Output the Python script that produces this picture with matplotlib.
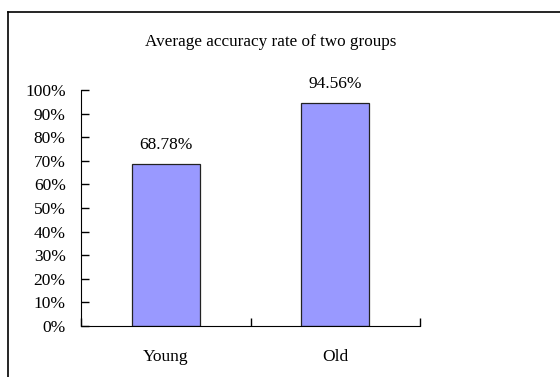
import matplotlib
matplotlib.use("Agg")
import matplotlib.pyplot as plt
from matplotlib.lines import Line2D

groups = ["Young", "Old"]
accuracy = [68.78, 94.56]
y_ticks = [0, 10, 20, 30, 40, 50, 60, 70, 80, 90, 100]
title = "Average accuracy rate of two groups"

plt.rcParams["font.family"] = ["Liberation Serif", "DejaVu Serif"]

W, H = 560, 377
fig = plt.figure(figsize=(W / 100, H / 100), dpi=100)

# outer chart-area border (only left and top visible in the reference)
fig.add_artist(Line2D([8 / W, 8 / W], [0, 1 - 12 / H], color="black", lw=1.2))
fig.add_artist(Line2D([8 / W, 1], [1 - 12 / H, 1 - 12 / H], color="black", lw=1.2))

ax = fig.add_axes([81 / W, 51 / H, (420 - 81) / W, (326 - 90) / H])
x = range(len(groups))
bars = ax.bar(x, accuracy, width=0.4, color="#9999FF", edgecolor="#222222", linewidth=0.9)

for xi, v in zip(x, accuracy):
    ax.text(xi, v + 4.5, f"{v:.2f}%", ha="center", va="bottom", fontsize=12.5)

ax.set_xlim(-0.5, 1.5)
ax.set_ylim(0, 100)
ax.set_yticks(y_ticks)
ax.set_yticklabels([f"{t}%" for t in y_ticks], fontsize=12.5)
ax.tick_params(axis="y", direction="in", length=6, width=1, pad=11)

# category ticks sit at the boundaries, labels at centers
ax.set_xticks([-0.5, 0.5, 1.5])
ax.set_xticklabels([])
ax.tick_params(axis="x", direction="in", length=6, width=1)
for xi, g in zip(x, groups):
    ax.text(xi, -13, g, ha="center", va="center", fontsize=12.5)

ax.spines["top"].set_visible(False)
ax.spines["right"].set_visible(False)

fig.text(271 / W, 1 - 42 / H, title, ha="center", va="center", fontsize=12.3)

fig.savefig("out.png", dpi=100)
